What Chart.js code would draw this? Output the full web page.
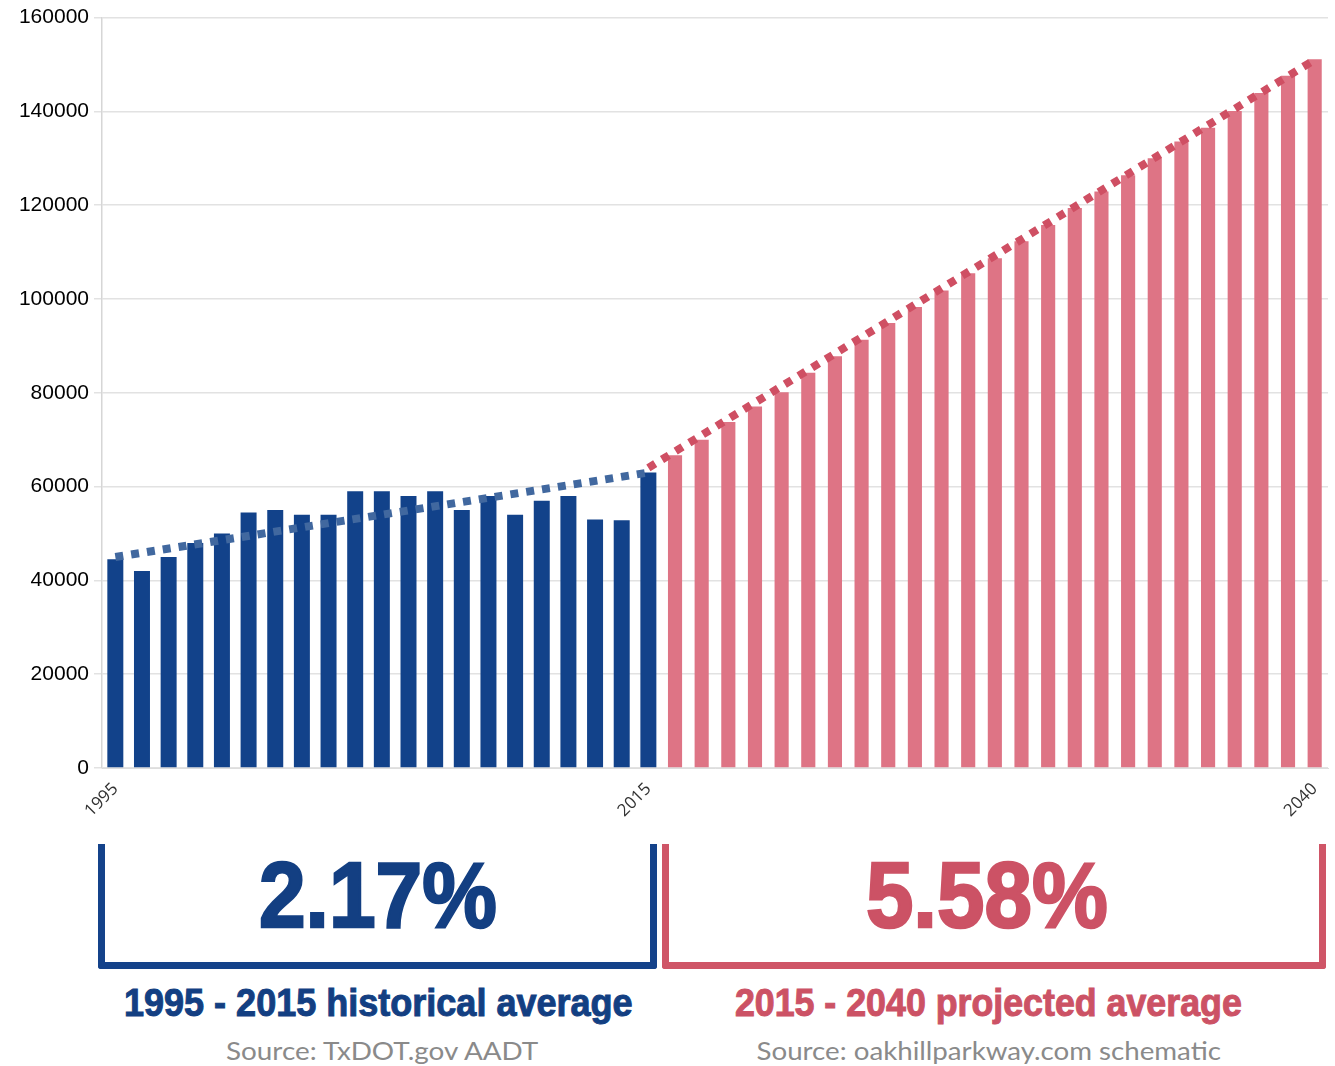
<!DOCTYPE html>
<html>
  <head>
    <title>AADT 1995 - 2040</title>
    <script src="https://cdn.jsdelivr.net/npm/chart.js"></script>
    <style>
      body {
        margin: 0;
        background: #fff;
        width: 1335px;
        height: 1066px;
        position: relative;
        overflow: hidden;
      }
      #chart-wrap {
        position: absolute;
        left: 0;
        top: 0;
        width: 1335px;
        height: 830px;
      }
      .bracket {
        position: absolute;
        top: 844px;
        height: 118px;
        border-style: solid;
        border-width: 0 7px 7px 7px;
        border-radius: 0 0 3px 3px;
        box-sizing: content-box;
      }
      .bracket.blue { left: 98px; width: 545px; border-color: #14428a; }
      .bracket.pink { left: 662px; width: 650px; border-color: #cf5567; }
      .big, .caption, .source {
        position: absolute;
        width: 800px;
        text-align: center;
        white-space: nowrap;
      }
      .big span, .caption span, .source span {
        display: inline-block;
        transform-origin: 50% 50%;
      }
      .big {
        top: 849px;
        font-family: 'Liberation Sans', Arial, sans-serif;
        font-weight: bold;
        font-size: 93px;
        line-height: 93px;
        -webkit-text-stroke: 2.5px currentColor;
      }
      .caption {
        top: 984px;
        font-family: 'Liberation Sans', Arial, sans-serif;
        font-weight: bold;
        font-size: 38px;
        line-height: 38px;
        -webkit-text-stroke: 1px currentColor;
      }
      .source {
        top: 1038px;
        font-family: Lato, 'Open Sans', sans-serif;
        font-size: 25px;
        line-height: 25px;
        color: #8a8a8a;
      }
      .blue-text { color: #133f82; }
      .pink-text { color: #cc5265; }
    </style>
  </head>
  <body>
    <div id="chart-wrap"><canvas id="aadt-chart" width="1335" height="830"></canvas></div>

    <div class="bracket blue"></div>
    <div class="bracket pink"></div>

    <div class="big blue-text" style="left:-22px;"><span data-w="238">2.17%</span></div>
    <div class="big pink-text" style="left:587px;"><span data-w="242">5.58%</span></div>

    <div class="caption blue-text" style="left:-22px;"><span data-w="509">1995 - 2015 historical average</span></div>
    <div class="caption pink-text" style="left:588px;"><span data-w="507">2015 - 2040 projected average</span></div>

    <div class="source" style="left:-18px;"><span data-w="312">Source: TxDOT.gov AADT</span></div>
    <div class="source" style="left:589px;"><span data-w="465">Source: oakhillparkway.com schematic</span></div>

    <script>
      // years on the x axis
      var years = [];
      for (var yr = 1995; yr <= 2040; yr++) years.push(String(yr));

      var shownYears = ['1995', '2015', '2040'];
      var yTicks = [0, 20000, 40000, 60000, 80000, 100000, 120000, 140000, 160000];

      // TxDOT counts 1995 - 2015
      var historical = [
        44500, 42000, 45000, 48000, 50000, 54500, 55000, 54000, 54000, 59000,
        59000, 58000, 59000, 55000, 58000, 54000, 57000, 58000, 53000, 52800,
        63000
      ];

      // schematic projection 2016 - 2040
      var projected = [
        66700, 70000, 73800, 77100, 80100, 84300, 87800, 91300, 94900, 98300,
        101800, 105500, 108700, 112300, 115800, 119400, 122900, 126400, 130000, 133600,
        136500, 140100, 143900, 147600, 151100
      ];

      // trend lines, end points only
      var historicalTrend = [
        { x: '1995', y: 45000 },
        { x: '2015', y: 63000 }
      ];
      var projectedTrend = [
        { x: '2015', y: 64000 },
        { x: '2040', y: 151000 }
      ];

      var blueBars = historical.concat(projected.map(function () { return null; }));
      var pinkBars = historical.map(function () { return null; }).concat(projected);

      // squeeze the caption texts to the widths in the original
      document.querySelectorAll('span[data-w]').forEach(function (el) {
        var k = Number(el.dataset.w) / el.offsetWidth;
        el.style.transform = 'scaleX(' + k.toFixed(3) + ')';
      });

      var ctx = document.getElementById('aadt-chart').getContext('2d');

      var aadtChart = new Chart(ctx, {
        type: 'bar',
        data: {
          labels: years,
          datasets: [
            {
              type: 'line',
              label: 'Historical trend',
              data: historicalTrend,
              borderColor: '#41689f',
              borderWidth: 8,
              borderDash: [8, 8],
              borderCapStyle: 'butt',
              pointRadius: 0,
              fill: false,
              order: 0,
            },
            {
              type: 'line',
              label: 'Projected trend',
              data: projectedTrend,
              borderColor: '#cf4f63',
              borderWidth: 8,
              borderDash: [8, 8],
              borderCapStyle: 'butt',
              pointRadius: 0,
              fill: false,
              order: 0,
            },
            {
              label: 'Historical',
              data: blueBars,
              backgroundColor: '#12428a',
              barPercentage: 0.6,
              categoryPercentage: 1,
              grouped: false,
              order: 1,
            },
            {
              label: 'Projected',
              data: pinkBars,
              backgroundColor: '#de7485',
              barPercentage: 0.53,
              categoryPercentage: 1,
              grouped: false,
              order: 1,
            },
          ],
        },
        options: {
          responsive: false,
          animation: false,
          layout: {
            padding: { top: 17, right: 7, bottom: 0, left: 0 },
          },
          plugins: {
            legend: { display: false },
            tooltip: { enabled: false },
          },
          scales: {
            x: {
              grid: { display: false },
              border: { color: '#dddddd' },
              ticks: {
                autoSkip: false,
                maxRotation: 45,
                minRotation: 45,
                color: '#333333',
                font: { family: "'Open Sans', sans-serif", size: 17 },
                callback: function (value) {
                  var lbl = this.getLabelForValue(value);
                  return shownYears.indexOf(lbl) >= 0 ? lbl : '';
                },
              },
              afterFit: function (scale) {
                scale.height = 62;
              },
            },
            y: {
              min: 0,
              max: 160000,
              afterBuildTicks: function (scale) {
                scale.ticks = yTicks.map(function (v) { return { value: v }; });
              },
              grid: { color: '#e2e2e2', lineWidth: 1.5, tickLength: 8 },
              border: { color: '#d6d6d6', width: 1.5 },
              ticks: {
                padding: 5,
                color: '#000000',
                font: { family: "'Liberation Sans', Arial, sans-serif", size: 21 },
                callback: function (value) {
                  return String(value);
                },
              },
              afterFit: function (scale) {
                scale.width = 102;
              },
            },
          },
        },
      });
    </script>
  </body>
</html>
